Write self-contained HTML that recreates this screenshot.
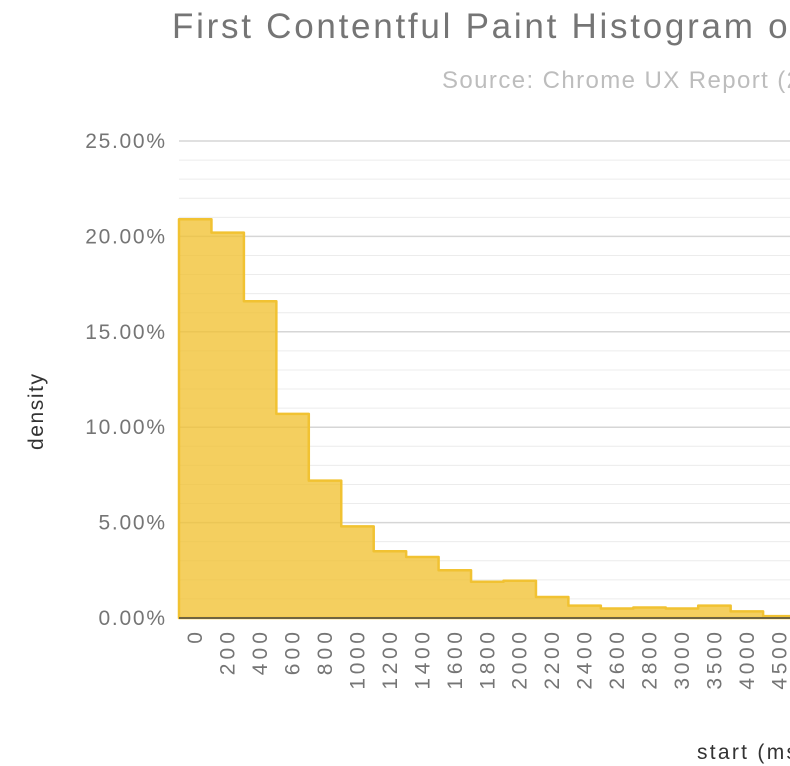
<!DOCTYPE html>
<html><head><meta charset="utf-8"><style>
body{margin:0;background:#fff;width:790px;height:766px;overflow:hidden;font-family:"Liberation Sans",sans-serif}
</style></head><body>
<svg width="790" height="766" style="position:absolute;left:0;top:0">
<text x="172" y="38" font-size="35" fill="#757575" textLength="628" lengthAdjust="spacing">First Contentful Paint Histogram of</text>
<text x="442" y="88" font-size="24" fill="#bdbdbd" textLength="358" lengthAdjust="spacing">Source: Chrome UX Report (2</text>
<text transform="translate(43,412) rotate(-90)" text-anchor="middle" font-size="21" fill="#333" textLength="76" lengthAdjust="spacing">density</text>
<text x="697" y="759" font-size="21" fill="#333" textLength="100" lengthAdjust="spacing">start (ms</text>
<g id="grid"></g><g id="bars"></g><g id="xl"></g><g id="yl"></g>
</svg>
<script>
const categories=["0","200","400","600","800","1000","1200","1400","1600","1800","2000","2200","2400","2600","2800","3000","3500","4000","4500"];
const densities=[20.9,20.2,16.6,10.7,7.2,4.8,3.5,3.2,2.5,1.9,1.95,1.1,0.65,0.5,0.55,0.5,0.65,0.35,0.1];
const yTicks=[0,5,10,15,20,25];
const NS="http://www.w3.org/2000/svg";
const x0=179,bw=32.45,yb=618,ppu=19.08;
const X=i=>x0+i*bw, Y=v=>yb-v*ppu;
function mk(t,a,p){const e=document.createElementNS(NS,t);for(const k in a)e.setAttribute(k,a[k]);p.appendChild(e);return e;}
const grid=document.getElementById('grid');
for(let v=1;v<=25;v++){
 const l=mk('line',{x1:x0,x2:790,y1:Y(v),y2:Y(v),stroke:v%5?'#ececec':'#d6d6d6','stroke-width':v%5?1:1.5},grid);
 
 
}
const yl=document.getElementById('yl');
yTicks.forEach(v=>{
 const s=v.toFixed(2)+'%';
 const t=mk('text',{x:165,y:Y(v)+7,'text-anchor':'end','font-size':21,fill:'#757575',textLength:s.length*13.3,lengthAdjust:'spacing'},yl);
 t.textContent=s;
 
 
});
let d=`M${X(0)},${yb}`;
densities.forEach((v,i)=>{d+=` L${X(i)},${Y(v)} L${X(i+1)},${Y(v)}`;});
d+=` L${X(densities.length)},${yb} Z`;
const bars=document.getElementById('bars');
const a=mk('path',{d:d,fill:'#f1c232','fill-opacity':0.78,stroke:'#f1c232','stroke-width':2.5,'stroke-linejoin':'round'},bars);


const ax=mk('line',{x1:x0,x2:790,y1:yb,y2:yb,stroke:'#444','stroke-width':1.5},bars);


const xl=document.getElementById('xl');
categories.forEach((c,i)=>{
 const cx=X(i)+bw/2+7;
 const t=mk('text',{transform:`translate(${cx},632) rotate(-90)`,'text-anchor':'end','font-size':21,fill:'#757575',textLength:c.length*14.4,lengthAdjust:'spacing'},xl);
 t.textContent=c;
 
 
});
</script>
</body></html>
